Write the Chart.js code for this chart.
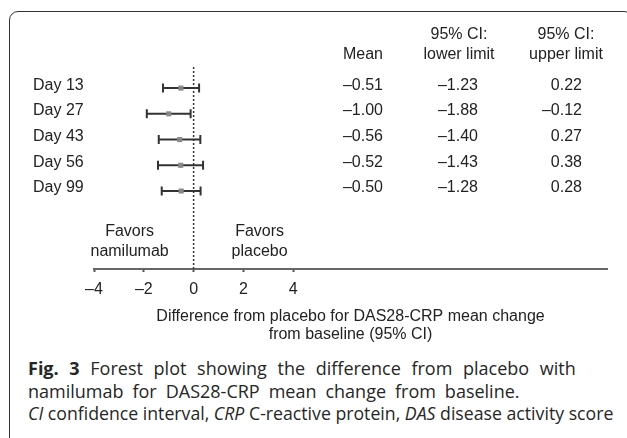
<!DOCTYPE html>
<html>
<head>
<meta charset="utf-8">
<script src="https://cdn.jsdelivr.net/npm/chart.js@4"></script>
<style>
  html, body { margin: 0; padding: 0; background: #fff; overflow: hidden; }
  body { width: 627px; height: 438px; position: relative; }
  #frame { position: absolute; left: 9px; top: 11px; width: 622px; height: 520px;
           border: 1.5px solid #333; border-radius: 9px; }
  #chart { position: absolute; left: 0; top: 0; }
  #caption { position: absolute; left: 28px; top: 357px; font-family: 'Open Sans', sans-serif;
             font-size: 18px; line-height: 22.5px; color: #262626; white-space: nowrap; }
  #caption .l1 { word-spacing: 6px; }
  #caption .l2 { word-spacing: 4.3px; }
  #caption .l3 { font-size: 17.7px; }
</style>
</head>
<body>
<div id="frame"></div>
<canvas id="chart" width="627" height="355"></canvas>
<div id="caption">
  <div class="l1"><b>Fig. 3</b> Forest plot showing the difference from placebo with</div>
  <div class="l2">namilumab for DAS28-CRP mean change from baseline.</div>
  <div class="l3"><i>CI</i> confidence interval, <i>CRP</i> C-reactive protein, <i>DAS</i> disease activity score</div>
</div>
<script>
// forest plot data
const days = ['Day 13', 'Day 27', 'Day 43', 'Day 56', 'Day 99'];
const means = [-0.51, -1.00, -0.56, -0.52, -0.50];
const lower = [-1.23, -1.88, -1.40, -1.43, -1.28];
const upper = [0.22, -0.12, 0.27, 0.38, 0.28];
const xTicks = [-4, -2, 0, 2, 4];

const FONT = "'Liberation Sans', Arial, sans-serif";
const INK = '#222';
Chart.defaults.font.family = FONT;
Chart.defaults.color = INK;

// en dash for negatives, like the print version
function fmt(v, digits) {
  const s = digits == null ? String(Math.abs(v)) : Math.abs(v).toFixed(digits);
  return v < 0 ? '\u2013' + s : s;
}

// CI whiskers + dotted line at zero
const whiskers = {
  id: 'whiskers',
  beforeDatasetsDraw(chart) {
    const { ctx, chartArea, scales: { x, y } } = chart;
    ctx.save();
    // zero line
    const x0 = x.getPixelForValue(0);
    ctx.strokeStyle = '#333';
    ctx.lineWidth = 1.5;
    ctx.setLineDash([2, 2]);
    ctx.beginPath();
    ctx.moveTo(x0, chartArea.top);
    ctx.lineTo(x0, chartArea.bottom);
    ctx.stroke();
    ctx.setLineDash([]);

    ctx.strokeStyle = '#333';
    ctx.lineWidth = 2;
    const cap = 4.5;
    days.forEach((d, i) => {
      const py = y.getPixelForValue(i);
      const xl = x.getPixelForValue(lower[i]);
      const xu = x.getPixelForValue(upper[i]);
      ctx.beginPath();
      ctx.moveTo(xl, py); ctx.lineTo(xu, py);
      ctx.moveTo(xl, py - cap); ctx.lineTo(xl, py + cap);
      ctx.moveTo(xu, py - cap); ctx.lineTo(xu, py + cap);
      ctx.stroke();
    });
    ctx.restore();
  }
};

// table columns and "Favors" notes
const labels = {
  id: 'labels',
  afterDraw(chart) {
    const { ctx, scales: { x, y } } = chart;
    ctx.save();
    ctx.fillStyle = INK;
    ctx.font = '16px ' + FONT;
    ctx.textBaseline = 'middle';

    // headers
    ctx.textAlign = 'center';
    ctx.fillText('Mean', 363, 55);
    ctx.fillText('95% CI:', 459, 35);
    ctx.fillText('lower limit', 459, 55);
    ctx.fillText('95% CI:', 566, 35);
    ctx.fillText('upper limit', 566, 55);

    // values
    ctx.textAlign = 'right';
    days.forEach((d, i) => {
      const py = y.getPixelForValue(i) - 3;
      ctx.fillText(fmt(means[i], 2), 383, py);
      ctx.fillText(fmt(lower[i], 2), 478, py);
      ctx.fillText(fmt(upper[i], 2), 582, py);
    });

    // favors
    const x0 = x.getPixelForValue(0);
    ctx.textAlign = 'center';
    ctx.fillText('Favors', x0 - 64, 232);
    ctx.fillText('namilumab', x0 - 64, 252);
    ctx.fillText('Favors', x0 + 66, 232);
    ctx.fillText('placebo', x0 + 66, 252);
    ctx.restore();
  }
};

new Chart(document.getElementById('chart'), {
  type: 'scatter',
  data: {
    datasets: [{
      data: means.map((m, i) => ({ x: m, y: i })),
      pointStyle: 'rect',
      pointRadius: 3.6,
      backgroundColor: '#888',
      borderWidth: 0
    }]
  },
  options: {
    responsive: false,
    animation: false,
    layout: { padding: { left: 33, top: 67, right: 20, bottom: 0 } },
    plugins: { legend: { display: false }, tooltip: { enabled: false } },
    scales: {
      x: {
        type: 'linear',
        min: -4,
        max: 16.6,
        afterBuildTicks: (s) => { s.ticks = xTicks.map(v => ({ value: v })); },
        afterFit: (s) => { s.height = 86; },
        grid: { drawOnChartArea: false, tickLength: 3, tickWidth: 2, tickColor: '#555' },
        border: { color: '#666', width: 2 },
        ticks: { color: INK, font: { size: 16 }, padding: 8, callback: (v) => fmt(v) },
        title: {
          display: true,
          text: ['Difference from placebo for DAS28-CRP mean change', 'from baseline (95% CI)'],
          color: INK,
          font: { size: 16, lineHeight: 1.15 },
          padding: { top: 0, bottom: 11 }
        }
      },
      y: {
        type: 'linear',
        reverse: true,
        min: -0.82,
        max: 7.03,
        afterBuildTicks: (s) => { s.ticks = days.map((d, i) => ({ value: i })); },
        afterFit: (s) => { s.width = 61; },
        grid: { display: false },
        border: { display: false },
        ticks: { crossAlign: 'far', labelOffset: -3, color: INK, font: { size: 16 }, callback: (v) => days[v] }
      }
    }
  },
  plugins: [whiskers, labels]
});
</script>
</body>
</html>
